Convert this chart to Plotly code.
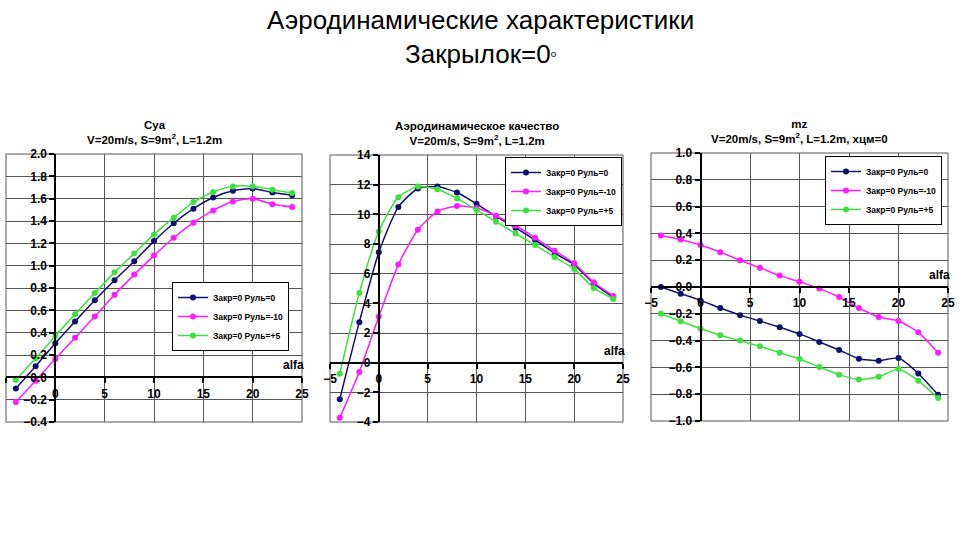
"""
Аэродинамические характеристики, закрылок = 0
Three Excel-style panels: Cya, aerodynamic quality K, mz vs alfa.
"""

import plotly.graph_objects as go

# angle of attack, deg
alfa = [-4, -2, 0, 2, 4, 6, 8, 10, 12, 14, 16, 18, 20, 22, 24]

series_names = ["Закр=0 Руль=0", "Закр=0 Руль=-10", "Закр=0 Руль=+5"]
series_colors = ["#10106e", "#ff1aff", "#3ee03e"]

# Cya
cya_rul0 = [-0.10, 0.10, 0.305, 0.50, 0.69, 0.87, 1.04, 1.22, 1.38, 1.51, 1.61, 1.67, 1.69, 1.655, 1.63]
cya_rulm10 = [-0.22, -0.03, 0.165, 0.355, 0.545, 0.74, 0.92, 1.09, 1.25, 1.385, 1.495, 1.575, 1.60, 1.55, 1.525]
cya_rulp5 = [-0.025, 0.17, 0.37, 0.565, 0.755, 0.94, 1.11, 1.28, 1.43, 1.57, 1.66, 1.71, 1.71, 1.68, 1.65]

# aerodynamic quality K
k_rul0 = [-2.46, 2.73, 7.44, 10.5, 11.74, 11.87, 11.47, 10.71, 9.86, 9.09, 8.27, 7.39, 6.61, 5.35, 4.41]
k_rulm10 = [-3.72, -0.63, 3.11, 6.61, 8.96, 10.19, 10.57, 10.42, 9.9, 9.23, 8.42, 7.55, 6.70, 5.42, 4.50]
k_rulp5 = [-0.74, 4.70, 8.85, 11.16, 11.87, 11.69, 11.07, 10.30, 9.5, 8.71, 7.93, 7.12, 6.32, 5.04, 4.30]

# mz
mz_rul0 = [0.0, -0.05, -0.10, -0.157, -0.21, -0.254, -0.30, -0.35, -0.41, -0.47, -0.535, -0.55, -0.53, -0.645, -0.805]
mz_rulm10 = [0.385, 0.355, 0.313, 0.26, 0.20, 0.144, 0.085, 0.04, -0.012, -0.075, -0.157, -0.224, -0.254, -0.338, -0.49]
mz_rulp5 = [-0.20, -0.256, -0.31, -0.36, -0.40, -0.443, -0.49, -0.537, -0.597, -0.654, -0.69, -0.67, -0.612, -0.70, -0.828]

panel_titles = [
    "Cya<br>V=20m/s, S=9m<sup>2</sup>, L=1.2m",
    "Аэродинамическое качество<br>V=20m/s, S=9m<sup>2</sup>, L=1.2m",
    "mz<br>V=20m/s, S=9m<sup>2</sup>, L=1.2m, xцм=0",
]
panel_data = [
    [cya_rul0, cya_rulm10, cya_rulp5],
    [k_rul0, k_rulm10, k_rulp5],
    [mz_rul0, mz_rulm10, mz_rulp5],
]
x_range = [-5, 25]
y_ranges = [[-0.4, 2.0], [-4, 14], [-1.0, 1.0]]
y_dticks = [0.2, 2, 0.2]
y_formats = [".1f", "d", ".1f"]

W, H = 960, 540
# plot areas in pixels: left, right, top, bottom
boxes = [(6, 302, 154, 422), (330, 623, 155, 422), (651, 948, 153, 421)]
legend_pos = [(172, 282), (505, 157), (825, 156)]

FONT = "Liberation Sans, Arial, sans-serif"
GRID = "#555555"

fig = go.Figure()

for i in range(3):
    sfx = "" if i == 0 else str(i + 1)
    leg = "legend" if i == 0 else "legend" + str(i + 1)
    for name, color, ys in zip(series_names, series_colors, panel_data[i]):
        fig.add_trace(go.Scatter(
            x=alfa, y=ys, name=name,
            mode="lines+markers",
            line=dict(color=color, width=1.5, shape="spline", smoothing=0.6),
            marker=dict(color=color, size=6),
            xaxis="x" + sfx, yaxis="y" + sfx,
            legend=leg,
        ))

    l, r, t, b = boxes[i]
    xd = [l / W, r / W]
    yd = [1 - b / H, 1 - t / H]
    y0, y1 = y_ranges[i]
    # Excel-style axes crossing at zero
    x_pos = yd[0] + (0 - y0) / (y1 - y0) * (yd[1] - yd[0])
    y_pos = xd[0] + (0 - x_range[0]) / (x_range[1] - x_range[0]) * (xd[1] - xd[0])

    fig.update_layout({
        "xaxis" + sfx: dict(
            domain=xd, range=x_range, anchor="free", position=x_pos,
            dtick=5, tick0=0, showgrid=True, gridcolor=GRID, gridwidth=1,
            zeroline=False, showline=True, linecolor="black", linewidth=2,
            ticks="outside", ticklen=5, tickcolor="black", tickwidth=1.5,
            tickfont=dict(family=FONT, size=12, color="black", weight="bold"),
            automargin=False,
        ),
        "yaxis" + sfx: dict(
            domain=yd, range=y_ranges[i], anchor="free", position=y_pos,
            dtick=y_dticks[i], tick0=0, tickformat=y_formats[i],
            showgrid=True, gridcolor=GRID, gridwidth=1,
            zeroline=False, showline=True, linecolor="black", linewidth=2,
            ticks="outside", ticklen=5, tickcolor="black", tickwidth=1.5,
            tickfont=dict(family=FONT, size=12, color="black", weight="bold"),
            automargin=False,
        ),
        leg: dict(
            x=legend_pos[i][0] / W, y=1 - legend_pos[i][1] / H,
            xanchor="left", yanchor="top",
            bgcolor="white", bordercolor="black", borderwidth=1,
            font=dict(family=FONT, size=8.5, color="black", weight="bold"),
            tracegroupgap=0, itemwidth=30,
        ),
    })

    # outer frame of the plot area
    fig.add_shape(type="rect", xref="x" + sfx + " domain", yref="y" + sfx + " domain",
                  x0=0, x1=1, y0=0, y1=1, line=dict(color=GRID, width=1), layer="below")

    fig.add_annotation(
        text="<b>" + panel_titles[i].replace("<br>", "</b><br><b>") + "</b>",
        xref="paper", yref="paper", x=(xd[0] + xd[1]) / 2, y=1 - (t - 6) / H,
        xanchor="center", yanchor="bottom", showarrow=False,
        font=dict(family=FONT, size=11.5, color="black"),
    )
    fig.add_annotation(
        text="<b>alfa</b>", xref="x" + sfx + " domain", yref="y" + sfx,
        x=1.015, y=0, xanchor="right", yanchor="bottom", yshift=3, showarrow=False,
        font=dict(family=FONT, size=12, color="black"),
    )

fig.add_annotation(
    text="Аэродинамические характеристики<br>Закрылок=0<span style='font-size:14px'><sup>о</sup></span>",
    xref="paper", yref="paper", x=0.5, y=1 - 3 / H,
    xanchor="center", yanchor="top", showarrow=False,
    font=dict(family=FONT, size=26, color="black"),
)

fig.update_layout(
    width=W, height=H,
    margin=dict(l=0, r=0, t=0, b=0, autoexpand=False),
    paper_bgcolor="white", plot_bgcolor="white",
    showlegend=True,
)

# drop the browser's default body margin so the 960x540 figure fills the window
fig.write_html("out.html", config={"displayModeBar": False},
               post_script="document.body.style.margin = '0';")
